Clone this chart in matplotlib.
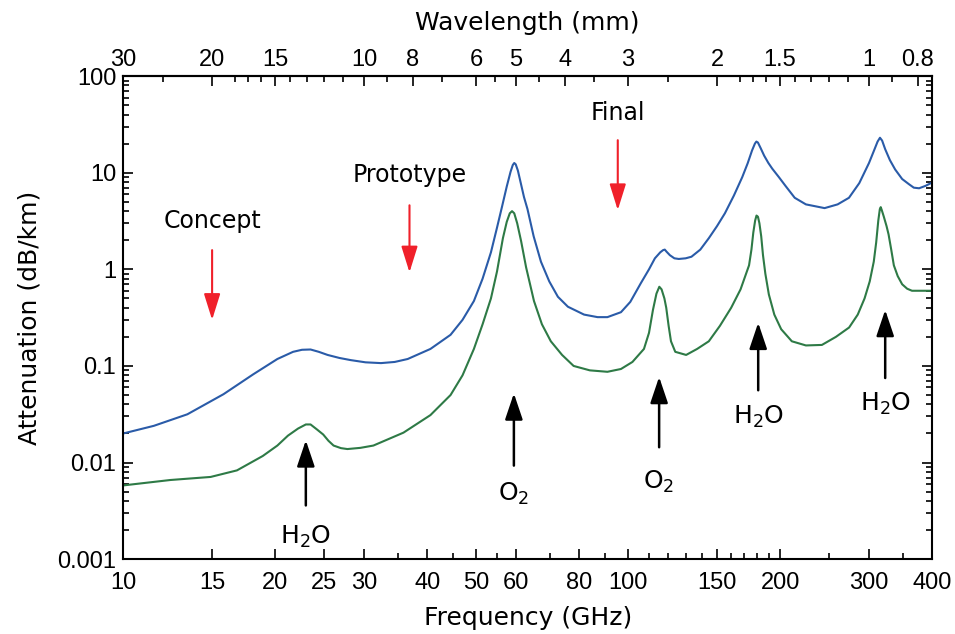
import numpy as np
import matplotlib.pyplot as plt
from matplotlib.ticker import FixedLocator, NullFormatter, LogLocator

# ---- data (frequency in GHz, attenuation in dB/km) ----
freq_blue = [10, 11.5, 13.4, 15.8, 18.1, 20.2, 21.7, 22.6, 23.5, 24.4, 25.4, 26.8,
             28.2, 30.2, 32.4, 34.5, 36.6, 40.6, 44.5, 47, 49.5, 51.5, 53.5, 55,
             56.3, 57.5, 58.5, 59.1, 59.5, 59.9, 60.5, 61.3, 62.2, 63.2, 65, 67.2,
             69.8, 72.6, 76, 81.8, 87, 91, 96.8, 101, 106, 110, 113, 115.8, 117.3,
             118.2, 119.2, 121, 123.5, 126, 130, 133.5, 139, 144.5, 150, 155.5, 162,
             168.3, 172.5, 176, 178.3, 179.5, 180.8, 183, 186, 189.6, 193, 198.9,
             205, 213.8, 225, 245, 260, 273.8, 287, 300, 307, 312, 315.4, 318.5,
             323, 330, 338, 349, 360, 368, 377, 388, 400]
att_blue = [0.020, 0.024, 0.0316, 0.051, 0.082, 0.118, 0.140, 0.147, 0.148, 0.140,
            0.130, 0.121, 0.115, 0.109, 0.107, 0.110, 0.118, 0.15, 0.21, 0.30, 0.47,
            0.8, 1.5, 2.7, 4.5, 7.2, 10.2, 12.0, 12.6, 12.2, 10.5, 7.8, 5.6, 4.2, 2.2,
            1.2, 0.75, 0.52, 0.41, 0.34, 0.32, 0.32, 0.36, 0.46, 0.72, 1.0, 1.3, 1.5,
            1.58, 1.6, 1.52, 1.4, 1.3, 1.28, 1.3, 1.35, 1.6, 2.1, 2.8, 3.8, 5.8, 9.0,
            12.5, 17.0, 20.0, 21.0, 20.5, 18.0, 15.0, 12.6, 11.0, 9.0, 7.3, 5.5, 4.7,
            4.3, 4.7, 5.5, 7.8, 12.6, 17.0, 21.0, 23.0, 21.5, 17.5, 13.5, 10.8, 8.6,
            7.6, 7.0, 6.9, 7.3, 7.9]

freq_green = [10, 12.4, 14.9, 16.8, 18.9, 20.2, 21.2, 22.2, 23, 23.5, 24.2, 24.9,
              25.5, 26.1, 27, 27.8, 29.5, 31.3, 35.9, 40.6, 44.5, 47, 49.5, 51.5,
              53.5, 55, 56.5, 57.5, 58.3, 58.9, 59.5, 60.3, 61.4, 62.8, 65.1, 67.5,
              70.3, 74, 78, 84, 91, 96.8, 102, 107.5, 110, 112, 113.8, 115.3, 116.5,
              118, 119, 120.3, 121.6, 124, 130.3, 137, 144.5, 152, 160, 167, 171,
              173.6, 175.5, 177, 178.5, 179.6, 180.8, 182, 183.5, 185, 187, 190,
              194.8, 201, 211, 225, 242, 258, 274, 285, 294, 301, 306.6, 310, 313,
              315.2, 316.5, 318, 321, 325, 328, 332, 336, 342, 349, 357, 365, 400]
att_green = [0.0058, 0.0066, 0.0071, 0.0083, 0.0117, 0.015, 0.019, 0.0225, 0.0248,
             0.0248, 0.022, 0.0195, 0.0168, 0.015, 0.0141, 0.0138, 0.0142, 0.015,
             0.0204, 0.031, 0.05, 0.08, 0.15, 0.27, 0.5, 0.95, 2.1, 3.1, 3.8, 4.0,
             3.8, 3.0, 1.95, 1.05, 0.47, 0.27, 0.18, 0.13, 0.10, 0.09, 0.087, 0.093,
             0.11, 0.15, 0.22, 0.38, 0.56, 0.66, 0.62, 0.5, 0.4, 0.26, 0.18, 0.14,
             0.13, 0.15, 0.18, 0.26, 0.4, 0.62, 0.88, 1.1, 1.6, 2.4, 3.2, 3.6, 3.5,
             3.0, 2.2, 1.4, 0.9, 0.55, 0.34, 0.24, 0.18, 0.163, 0.165, 0.2, 0.25,
             0.34, 0.5, 0.75, 1.2, 1.9, 3.2, 4.2, 4.4, 4.1, 3.5, 2.8, 2.3, 1.6, 1.1,
             0.85, 0.7, 0.63, 0.6, 0.6]

# axis ticks
f_ticks = [10, 15, 20, 25, 30, 40, 50, 60, 80, 100, 150, 200, 300, 400]
f_minor = [35, 45, 55, 70, 90, 110, 120, 130, 140, 160, 170, 180, 190,
           250, 350]
wl_ticks = [30, 20, 15, 10, 8, 6, 5, 4, 3, 2, 1.5, 1, 0.8]
wl_minor = [25, 18, 17, 16, 14, 13, 12, 11, 9, 7, 5.5, 4.5, 3.5, 2.5, 1.8, 1.7,
            1.6, 1.4, 1.3, 1.2, 1.1, 0.9]
y_ticks = [0.001, 0.01, 0.1, 1, 10, 100]
y_labels = ['0.001', '0.01', '0.1', '1', '10', '100']

# design stages (red arrows): label, freq, arrow tail, arrow head, text y
red_marks = [('Concept', 15, 1.58, 0.30, 3.2),
             ('Prototype', 36.9, 4.6, 0.93, 9.4),
             ('Final', 95.4, 21.7, 4.1, 41)]
# absorption lines (black arrows)
gas_marks = [('H$_2$O', 23.0, 0.0036, 0.017, 0.0017),
             ('O$_2$', 59.4, 0.0093, 0.052, 0.0047),
             ('O$_2$', 115.2, 0.0144, 0.077, 0.0063),
             ('H$_2$O', 181, 0.056, 0.28, 0.030),
             ('H$_2$O', 323, 0.075, 0.38, 0.040)]

plt.rcParams['font.family'] = ['DejaVu Sans']
tick_font = ['Liberation Sans', 'DejaVu Sans']

fig = plt.figure(figsize=(9.55, 6.34), dpi=100)
ax = fig.add_axes([0.129, 0.118, 0.847, 0.762])

ax.plot(freq_blue, att_blue, color='#2a5ba8', lw=1.5)
ax.plot(freq_green, att_green, color='#2e7a46', lw=1.5)

ax.set_xscale('log')
ax.set_yscale('log')
ax.set_xlim(10, 400)
ax.set_ylim(0.001, 100)

ax.xaxis.set_major_locator(FixedLocator(f_ticks))
ax.xaxis.set_minor_locator(FixedLocator(f_minor))
ax.set_xticklabels([str(t) for t in f_ticks], family=tick_font)
ax.xaxis.set_minor_formatter(NullFormatter())
ax.yaxis.set_major_locator(FixedLocator(y_ticks))
ax.set_yticklabels(y_labels, family=tick_font)
ax.yaxis.set_minor_locator(LogLocator(base=10, subs=np.arange(2, 10)))
ax.yaxis.set_minor_formatter(NullFormatter())

ax.tick_params(which='both', direction='in', right=True, labelsize=17, width=1.2)
ax.tick_params(which='major', length=7)
ax.tick_params(which='minor', length=4)
ax.tick_params(axis='x', pad=9)
ax.tick_params(axis='y', pad=5)
for s in ax.spines.values():
    s.set_linewidth(1.5)

ax.set_xlabel('Frequency (GHz)', fontsize=18, labelpad=9)
ax.set_ylabel('Attenuation (dB/km)', fontsize=18, labelpad=11)

# wavelength axis on top
top = ax.secondary_xaxis('top', functions=(lambda f: 300.0 / f, lambda w: 300.0 / w))
top.xaxis.set_major_locator(FixedLocator(wl_ticks))
top.xaxis.set_minor_locator(FixedLocator(wl_minor))
top.set_xticklabels(['%g' % w for w in wl_ticks], family=tick_font)
top.xaxis.set_minor_formatter(NullFormatter())
top.tick_params(which='both', direction='in', labelsize=17, width=1.2, pad=4)
top.tick_params(which='major', length=7)
top.tick_params(which='minor', length=4)
top.spines['top'].set_linewidth(1.5)
top.set_xlabel('Wavelength (mm)', fontsize=18, labelpad=13)

for label, f, y0, y1, ty in red_marks:
    ax.annotate('', xy=(f, y1), xytext=(f, y0),
                arrowprops=dict(arrowstyle='-|>,head_length=0.8,head_width=0.25',
                                color='#f0202a', lw=1.5, mutation_scale=20,
                                shrinkA=0, shrinkB=0))
    ax.text(f, ty, label, fontsize=17, ha='center', va='center')

for label, f, y0, y1, ty in gas_marks:
    ax.annotate('', xy=(f, y1), xytext=(f, y0),
                arrowprops=dict(arrowstyle='-|>,head_length=0.8,head_width=0.27',
                                color='black', lw=1.8, mutation_scale=20,
                                shrinkA=0, shrinkB=0))
    ax.text(f, ty, label, fontsize=18, ha='center', va='center')

fig.savefig('out.png', dpi=100)
